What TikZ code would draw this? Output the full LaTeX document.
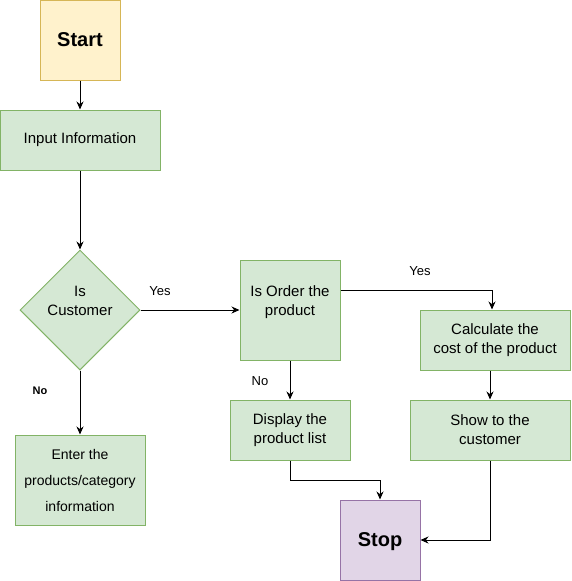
\documentclass[tikz,border=0pt]{standalone}
\usepackage{fontspec}
\setmainfont{Liberation Sans}
\usetikzlibrary{arrows.meta,shapes.geometric}
\definecolor{gfill}{HTML}{D5E8D4}
\definecolor{gdraw}{HTML}{82B366}
\definecolor{yfill}{HTML}{FFF2CC}
\definecolor{ydraw}{HTML}{D6B656}
\definecolor{pfill}{HTML}{E1D5E7}
\definecolor{pdraw}{HTML}{9673A6}
\begin{document}
\begin{tikzpicture}[x=1pt,y=-1pt,
  box/.style={draw=gdraw,fill=gfill,line width=1pt,inner sep=0pt,align=center,font=\fontsize{15}{19}\selectfont},
  term/.style={line width=1pt,inner sep=0pt,minimum width=80pt,minimum height=80pt,font=\fontsize{20}{24}\selectfont\bfseries},
  conn/.style={line width=1pt,-{Stealth[length=8pt,width=7pt]}},
  lbl/.style={font=\fontsize{13}{15}\selectfont},
  lblb/.style={font=\fontsize{11}{13}\selectfont\bfseries}]
\useasboundingbox (0,0) rectangle (571,581);
\node[term,draw=ydraw,fill=yfill] (start) at (80,40) {Start};
\node[box,minimum width=160pt,minimum height=60pt] (input) at (80,140) {Input Information};
\node[box,diamond,aspect=1,minimum width=120pt,minimum height=120pt] (cust) at (80,310) {Is\\Customer\\\mbox{}};
\node[box,minimum width=100pt,minimum height=100pt] (order) at (290,310) {Is Order the\\product\\\mbox{}};
\node[box,minimum width=150pt,minimum height=60pt] (calc) at (495,340) {Calculate the\\cost of the product};
\node[box,minimum width=120pt,minimum height=60pt] (disp) at (290,430) {Display the\\product list};
\node[box,minimum width=160pt,minimum height=60pt] (show) at (490,430) {Show to the\\customer};
\node[box,minimum width=130pt,minimum height=90pt,font=\fontsize{14}{26}\selectfont] (enter) at (80,480) {Enter the\\products/category\\information};
\node[term,draw=pdraw,fill=pfill,text depth=0pt] (stop) at (380,540) {Stop};

\draw[conn] (start) -- (input);
\draw[conn] (input) -- (cust);
\draw[conn] (cust) -- (order);
\draw[conn] (cust) -- (enter);
\draw[conn] ([yshift=20pt]order.east) -| ([xshift=-3pt]calc.north);
\draw[conn] (order) -- (disp);
\draw[conn] (calc.south -| show.north) -- (show.north);
\draw[conn] (disp.south) -- ++(0,20) -| (stop.north);
\draw[conn] (show.south) |- (stop.east);

\node[lbl] (yes1) at (160,291) {Yes};
\node[lbl] (yes2) at (420,271) {Yes};
\node[lbl] (no2) at (260,381) {No};
\node[lblb] (no1) at (40,391) {No};
\end{tikzpicture}
\end{document}
